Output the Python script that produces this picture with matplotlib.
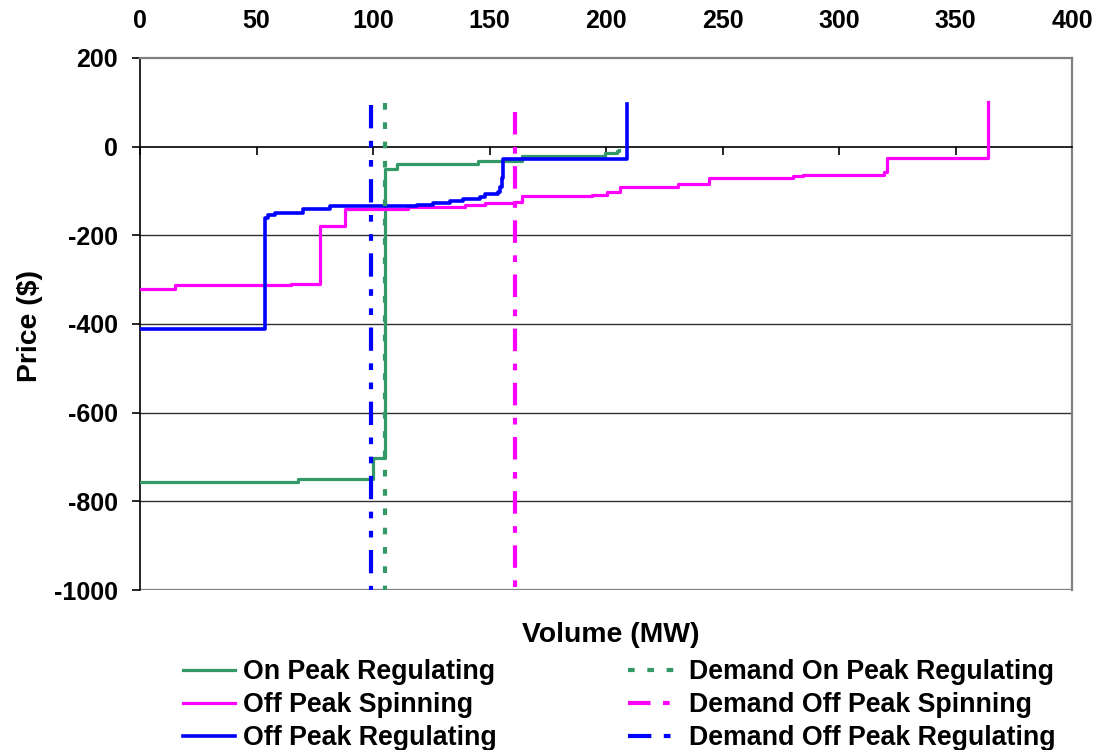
import matplotlib
matplotlib.use("Agg")
import matplotlib.pyplot as plt

plt.rcParams['font.family'] = ['Liberation Sans', 'DejaVu Sans']
plt.rcParams['font.weight'] = 'bold'
plt.rcParams['lines.scale_dashes'] = False

# ---- data ----
on_peak_reg_x = [0, 68, 99.9, 105.3, 110.2, 145.2, 163.8, 199.6, 204.6, 205.5]
on_peak_reg_y = [-757, -750, -703, -50, -38, -33, -21, -14, -10, -8]

off_peak_spin_x = [0, 15, 65, 77.3, 88, 115.2, 139.5, 148, 161, 163.8, 193.9, 200.3,
                   206, 211, 231, 244, 280.4, 284.7, 319.2, 320.5, 364]
off_peak_spin_y = [-322, -313, -309, -179, -140, -136, -132, -128, -125, -112, -108, -102,
                   -92, -91, -85, -71, -66, -63, -58, -25, 100]

off_peak_reg_x = [0, 53.6, 55, 58, 70, 81.5, 118.7, 125.9, 133, 138.8, 146, 148,
                  153.8, 154.5, 155.2, 156, 209]
off_peak_reg_y = [-412, -162, -155, -149, -140, -134, -131, -127, -123, -117, -114, -106,
                  -102, -91, -71, -27, 97]

demand_on_peak_reg = 105.2
demand_on_peak_reg_top = 98
demand_off_peak_spin = 161
demand_off_peak_spin_top = 78
demand_off_peak_reg = 99
demand_off_peak_reg_top = 93

x_ticks = [0, 50, 100, 150, 200, 250, 300, 350, 400]
y_ticks = [-1000, -800, -600, -400, -200, 0, 200]

green = '#339966'
magenta = '#FF00FF'
blue = '#0000FF'

W, H = 1107, 750
fig = plt.figure(figsize=(W / 100, H / 100), dpi=100)
ax = fig.add_axes([140 / W, 1 - 590 / H, (1072 - 140) / W, (590 - 58) / H])

ax.set_xlim(0, 400)
ax.set_ylim(-1000, 200)

# gridlines
for yv in [-800, -600, -400, -200]:
    ax.axhline(yv, color='#303030', lw=1.0, zorder=1)
ax.axhline(-1000, color='#808080', lw=1.6, zorder=1)

l1, = ax.plot(on_peak_reg_x, on_peak_reg_y, drawstyle='steps-post', color=green, lw=2.3,
              label='On Peak Regulating', zorder=3)
l2, = ax.plot(off_peak_spin_x, off_peak_spin_y, drawstyle='steps-post', color=magenta, lw=2.3,
              label='Off Peak Spinning', zorder=3)
l3, = ax.plot(off_peak_reg_x, off_peak_reg_y, drawstyle='steps-post', color=blue, lw=2.6,
              label='Off Peak Regulating', zorder=4)

d1, = ax.plot([demand_on_peak_reg, demand_on_peak_reg], [demand_on_peak_reg_top, -1000],
              color=green, lw=3, dashes=(4.8, 9.1), label='Demand On Peak Regulating', zorder=5)
d2, = ax.plot([demand_off_peak_spin, demand_off_peak_spin], [demand_off_peak_spin_top, -1000],
              color=magenta, lw=3, dashes=(16.2, 9.0, 4.8, 9.0),
              label='Demand Off Peak Spinning', zorder=5)
d3, = ax.plot([demand_off_peak_reg, demand_off_peak_reg], [demand_off_peak_reg_top, -1000],
              color=blue, lw=3, dashes=(16.8, 9.0, 4.8, 9.0, 4.8, 9.0),
              label='Demand Off Peak Regulating', zorder=5)

# spines
ax.spines['bottom'].set_position(('data', 0))
ax.spines['bottom'].set_color('black')
ax.spines['bottom'].set_linewidth(1.2)
ax.spines['left'].set_color('black')
ax.spines['left'].set_linewidth(1.2)
for s in ['top', 'right']:
    ax.spines[s].set_color('#808080')
    ax.spines[s].set_linewidth(1.6)

ax.set_xticks(x_ticks)
ax.set_yticks(y_ticks)
ax.set_xticklabels([str(v) for v in x_ticks])
ax.set_yticklabels([str(v) for v in y_ticks])
ax.tick_params(axis='x', which='both', bottom=True, top=False, labelbottom=False, labeltop=True,
               direction='out', length=6, width=1.2, pad=12, labelsize=18)
ax.tick_params(axis='y', direction='out', length=6, width=1.2, pad=10, labelsize=18)
for t in ax.get_xticklabels() + ax.get_yticklabels():
    t.set_fontweight('bold')

fig.text(611 / W, 1 - 635 / H, 'Volume (MW)', ha='center', va='center',
         fontsize=20.4, fontweight='bold')
fig.text(30 / W, 1 - 326 / H, 'Price ($)', ha='center', va='center', rotation=90,
         fontsize=20.4, fontweight='bold')

leg = fig.legend(handles=[l1, l2, l3, d1, d2, d3], ncol=2, loc='upper left',
                 bbox_to_anchor=(183 / W, 1 - 659 / H), frameon=False,
                 prop={'size': 19.3, 'weight': 'bold'}, handlelength=1.95,
                 handletextpad=0.3, columnspacing=4.9, labelspacing=0.27,
                 borderpad=0, borderaxespad=0)

fig.savefig('out.png', dpi=100)
